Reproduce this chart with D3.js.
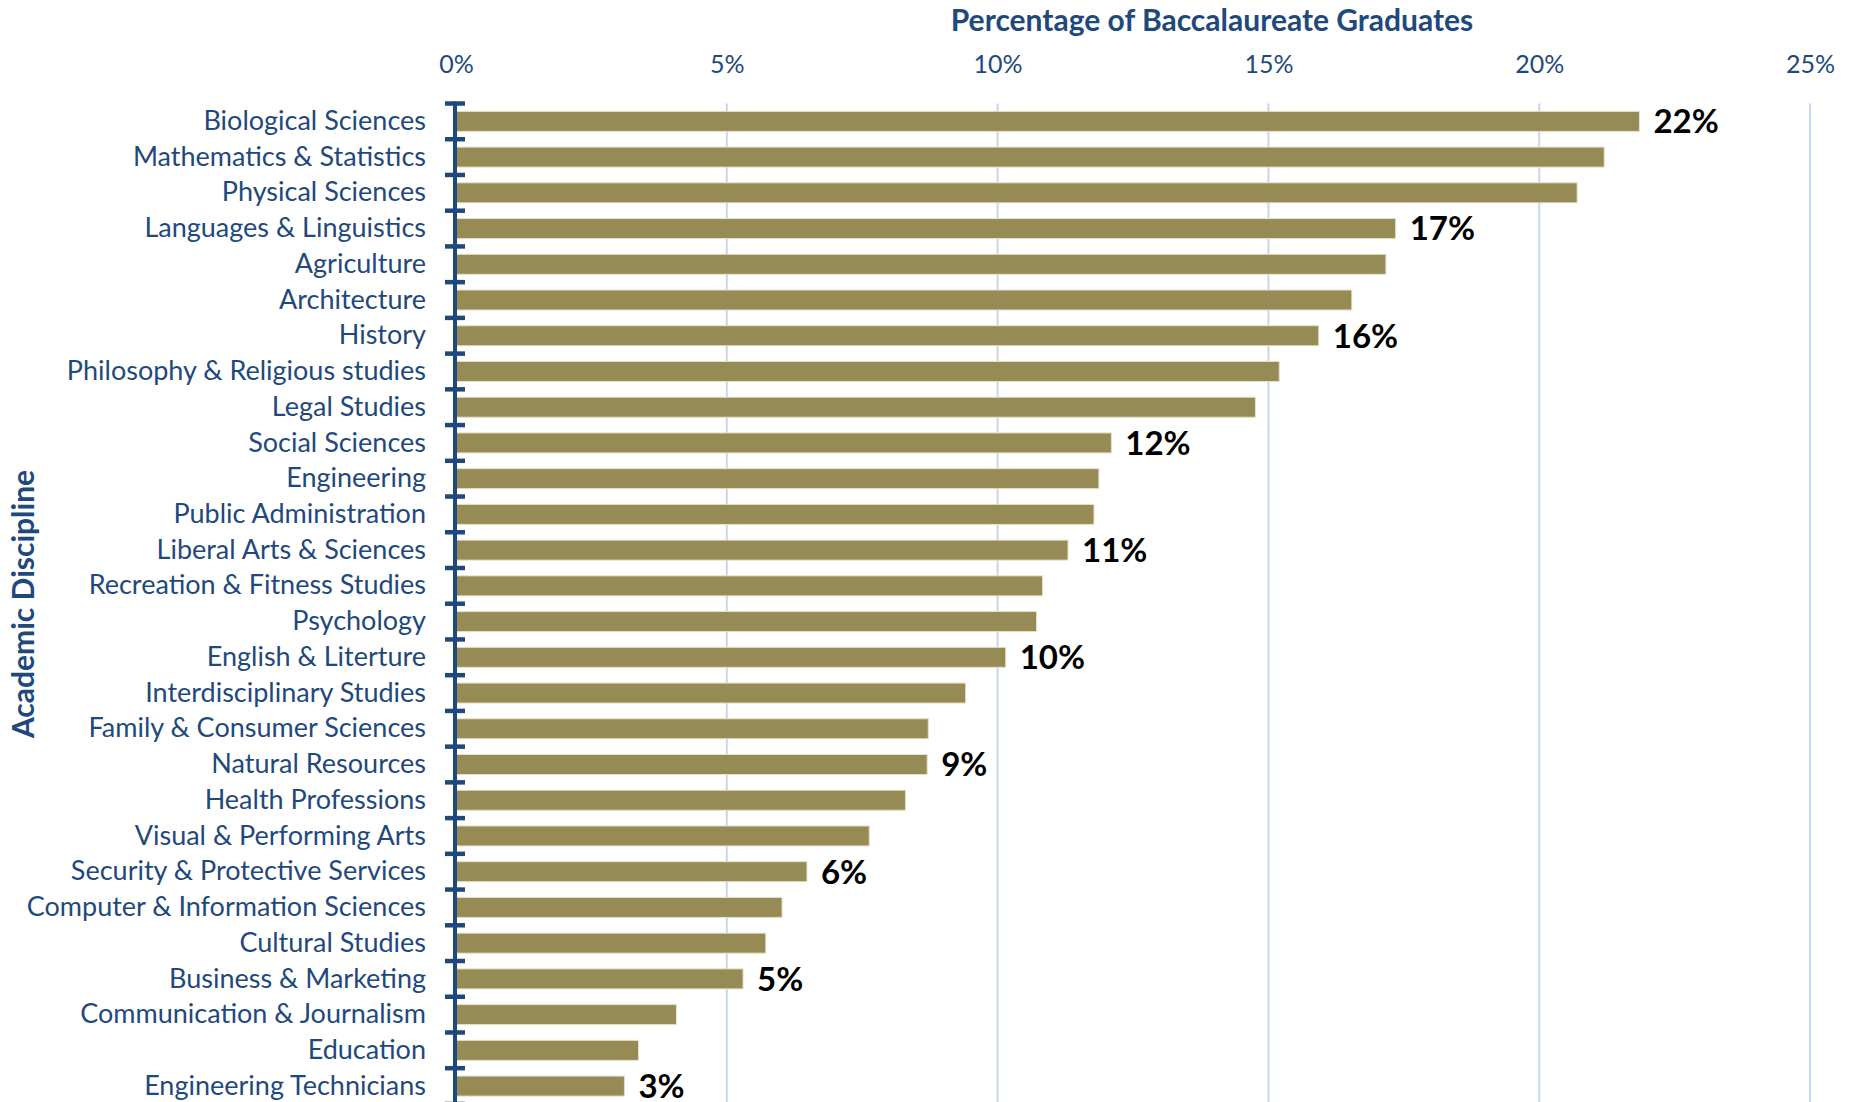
<!DOCTYPE html>
<html>
<head>
<meta charset="utf-8">
<script src="https://cdn.jsdelivr.net/npm/d3@7"></script>
<style>
  html, body { margin: 0; padding: 0; background: #fff; }
  svg { display: block; font-family: Lato, "Open Sans", sans-serif; }
</style>
</head>
<body>
<div id="chart"></div>
<script>
const categories = [
    'Biological Sciences', 'Mathematics & Statistics', 'Physical Sciences',
    'Languages & Linguistics', 'Agriculture', 'Architecture', 'History',
    'Philosophy & Religious studies', 'Legal Studies', 'Social Sciences',
    'Engineering', 'Public Administration', 'Liberal Arts & Sciences',
    'Recreation & Fitness Studies', 'Psychology', 'English & Literture',
    'Interdisciplinary Studies', 'Family & Consumer Sciences', 'Natural Resources',
    'Health Professions', 'Visual & Performing Arts', 'Security & Protective Services',
    'Computer & Information Sciences', 'Cultural Studies', 'Business & Marketing',
    'Communication & Journalism', 'Education', 'Engineering Technicians'
];
const values = [
    21.85, 21.2, 20.7, 17.35, 17.17, 16.54, 15.93, 15.2, 14.76, 12.1,
    11.87, 11.78, 11.3, 10.83, 10.72, 10.15, 9.41, 8.72, 8.7, 8.3,
    7.63, 6.48, 6.02, 5.72, 5.3, 4.07, 3.37, 3.11
];
const valueLabels = [
    '22%', null, null, '17%', null, null, '16%', null, null, '12%',
    null, null, '11%', null, null, '10%', null, null, '9%', null,
    null, '6%', null, null, '5%', null, null, '3%'
];
const xTicks = [0, 5, 10, 15, 20, 25];

const width = 1849;
const height = 1102;
const navy = '#1F497D';
const barColor = '#968B54';

const margin = { top: 103.5, left: 456 };
const bandStep = 35.73;

const svg = d3.select('#chart')
    .append('svg')
    .attr('width', width)
    .attr('height', height);

const x = d3.scaleLinear()
    .domain([0, 25])
    .range([margin.left, 1810]);

const yOuter = d3.scaleBand()
    .domain(categories)
    .range([margin.top, margin.top + bandStep * categories.length])
    .padding(0);

const y = d3.scaleBand()
    .domain(categories)
    .range(yOuter.range())
    .paddingInner(0.44)
    .paddingOuter(0.22);

// gridlines
svg.append('g')
    .selectAll('line')
    .data(xTicks.slice(1))
    .enter()
    .append('line')
    .attr('x1', d => x(d))
    .attr('x2', d => x(d))
    .attr('y1', margin.top)
    .attr('y2', height)
    .attr('stroke', '#C8D6EA')
    .attr('stroke-width', 2);

// x tick labels on top
const xAxis = svg.append('g')
    .attr('transform', `translate(0, 73)`)
    .call(d3.axisTop(x).tickValues(xTicks).tickSize(0).tickPadding(0).tickFormat(d => d + '%'));
xAxis.select('.domain').remove();
xAxis.selectAll('text')
    .attr('fill', navy)
    .attr('font-size', 25)
    .attr('font-family', 'Lato, sans-serif');

// bars
svg.append('g')
    .selectAll('rect')
    .data(categories)
    .enter()
    .append('rect')
    .attr('x', x(0))
    .attr('y', d => y(d))
    .attr('width', (d, i) => x(values[i]) - x(0))
    .attr('height', y.bandwidth())
    .attr('fill', barColor)
    .attr('stroke', '#E6E1C9')
    .attr('stroke-width', 1);

// value labels
svg.append('g')
    .selectAll('text')
    .data(categories.filter((d, i) => valueLabels[i]))
    .enter()
    .append('text')
    .attr('x', d => x(values[categories.indexOf(d)]) + 14)
    .attr('y', d => y(d) + y.bandwidth() / 2)
    .attr('dy', '0.36em')
    .attr('font-size', 33)
    .attr('font-weight', 'bold')
    .attr('fill', '#000')
    .text(d => valueLabels[categories.indexOf(d)]);

// category labels
const yAxis = svg.append('g')
    .attr('transform', `translate(${margin.left}, 0)`)
    .call(d3.axisLeft(y).tickSize(0).tickPadding(30));
yAxis.select('.domain').remove();
yAxis.selectAll('text')
    .attr('fill', navy)
    .attr('font-size', 27)
    .attr('font-family', 'Lato, sans-serif');

// y axis line with cross ticks at band boundaries
const boundaries = categories.map(d => yOuter(d)).concat([yOuter.range()[1]]);
svg.append('g')
    .selectAll('line')
    .data(boundaries)
    .enter()
    .append('line')
    .attr('x1', margin.left - 11)
    .attr('x2', margin.left + 9)
    .attr('y1', d => d)
    .attr('y2', d => d)
    .attr('stroke', navy)
    .attr('stroke-width', 4.5);
svg.append('line')
    .attr('x1', margin.left - 1)
    .attr('x2', margin.left - 1)
    .attr('y1', margin.top - 2)
    .attr('y2', height)
    .attr('stroke', navy)
    .attr('stroke-width', 4);

// axis titles
svg.append('text')
    .attr('x', 1212)
    .attr('y', 31)
    .attr('text-anchor', 'middle')
    .attr('font-size', 30)
    .attr('font-weight', 'bold')
    .attr('fill', navy)
    .text('Percentage of Baccalaureate Graduates');

svg.append('text')
    .attr('transform', 'translate(34, 604) rotate(-90)')
    .attr('text-anchor', 'middle')
    .attr('font-size', 30)
    .attr('font-weight', 'bold')
    .attr('fill', navy)
    .text('Academic Discipline');
</script>
</body>
</html>
